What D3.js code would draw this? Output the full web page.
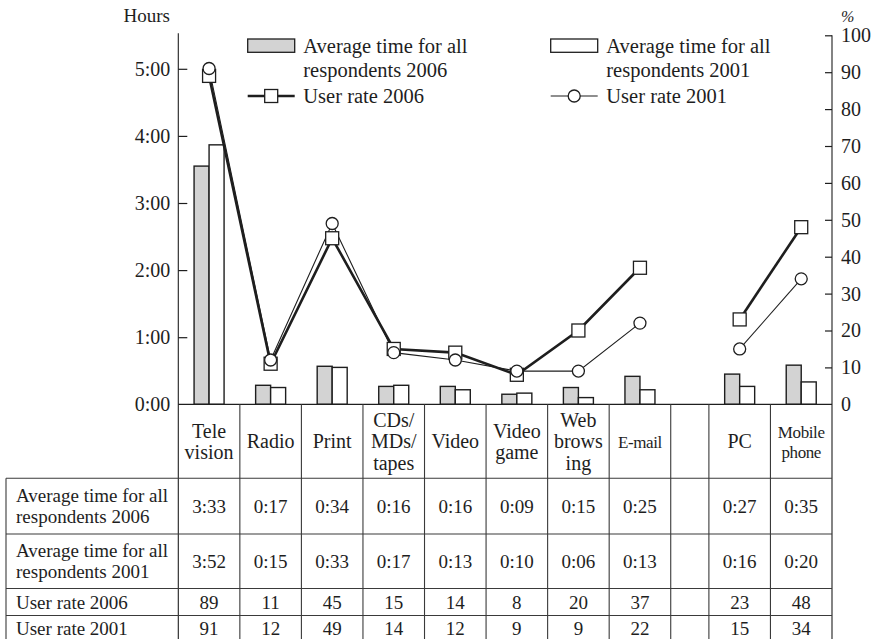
<!DOCTYPE html>
<html>
<head>
<meta charset="utf-8">
<script src="https://cdn.jsdelivr.net/npm/d3@7"></script>
<style>
  html, body { margin: 0; padding: 0; background: #fff; }
</style>
</head>
<body>
<svg id="chart" width="877" height="639"></svg>
<script>
// ---- data -------------------------------------------------------------
const categories = [
  ["Tele", "vision"], ["Radio"], ["Print"], ["CDs/", "MDs/", "tapes"], ["Video"],
  ["Video", "game"], ["Web", "brows", "ing"], ["E-mail"], ["PC"], ["Mobile", "phone"]
];
// average daily time, minutes
const time2006 = [213, 17, 34, 16, 16, 9, 15, 25, 27, 35];
const time2001 = [232, 15, 33, 17, 13, 10, 6, 13, 16, 20];
// user rate, %
const rate2006 = [89, 11, 45, 15, 14, 8, 20, 37, 23, 48];
const rate2001 = [91, 12, 49, 14, 12, 9, 9, 22, 15, 34];
// line groups: media items, then devices
const lineGroups = [[0, 1, 2, 3, 4, 5, 6, 7], [8, 9]];
const hourTicks = [0, 60, 120, 180, 240, 300];
const rateTicks = [0, 10, 20, 30, 40, 50, 60, 70, 80, 90, 100];
const rowLabels = [
  ["Average time for all", "respondents 2006"],
  ["Average time for all", "respondents 2001"],
  ["User rate 2006"],
  ["User rate 2001"]
];

// ---- layout ------------------------------------------------------------
const FONT = "Liberation Serif";
const svg = d3.select("#chart").attr("font-family", FONT);
const ink = "#1e1e1e";
const gridInk = "#3a3a3a";
const L = 178.3, R = 832, base = 404.3, plotTop = 33.3;
const tableLeft = 6;
const rowLines = [478.3, 534, 588.5, 615.5, 642];

const fmtTime = m => Math.floor(m / 60) + ":" + String(m % 60).padStart(2, "0");

// column widths in units: one unit per item, a narrow spacer before PC
const spacerAfter = 7, spacerUnits = 0.62;
const colStart = categories.map((c, i) => i + (i > spacerAfter ? spacerUnits : 0));
const totalUnits = categories.length + spacerUnits;
const xu = d3.scaleLinear().domain([0, totalUnits]).range([L, R]);
const cx = i => xu(colStart[i] + 0.5);
const sub = d3.scaleBand().domain(["2006", "2001"]).range([-15, 15]);

const yTime = d3.scaleLinear().domain([0, 60]).range([base, base - 67.1]);
const yRate = d3.scaleLinear().domain([0, 100]).range([base, 35.3]);

// ---- axes --------------------------------------------------------------
const leftAxis = d3.axisRight(yTime).tickValues(hourTicks).tickFormat(fmtTime).tickSize(9).tickPadding(0);
const gl = svg.append("g").attr("transform", `translate(${L},0)`).call(leftAxis)
  .attr("font-family", FONT).attr("font-size", 20);
gl.select(".domain").remove();
gl.selectAll(".tick line").attr("stroke", ink).attr("stroke-width", 1.2);
gl.selectAll(".tick text").attr("x", -8).attr("text-anchor", "end").attr("fill", ink);
gl.selectAll(".tick").filter(d => d === 0).select("line").remove();

const rightAxis = d3.axisLeft(yRate).tickValues(rateTicks).tickSize(7);
const gr = svg.append("g").attr("transform", `translate(${R},0)`).call(rightAxis)
  .attr("font-family", FONT).attr("font-size", 20);
gr.select(".domain").remove();
gr.selectAll(".tick line").attr("stroke", ink).attr("stroke-width", 1.2);
gr.selectAll(".tick text").attr("x", 9).attr("text-anchor", "start").attr("fill", ink);
gr.selectAll(".tick").filter(d => d === 0).select("line").remove();

svg.append("text").attr("x", 170).attr("y", 22).attr("text-anchor", "end")
  .attr("font-size", 19).attr("fill", ink).text("Hours");
svg.append("text").attr("x", 841).attr("y", 22).attr("text-anchor", "start")
  .attr("font-size", 16).attr("font-style", "italic").attr("fill", ink).text("%");

// ---- bars --------------------------------------------------------------
const bars = svg.append("g");
categories.forEach((c, i) => {
  [["2006", time2006[i], "#d3d3d3"], ["2001", time2001[i], "#ffffff"]].forEach(([k, v, fill]) => {
    bars.append("rect")
      .attr("x", cx(i) + sub(k)).attr("width", sub.bandwidth())
      .attr("y", yTime(v)).attr("height", base - yTime(v))
      .attr("fill", fill).attr("stroke", ink).attr("stroke-width", 1.4);
  });
});

// ---- frame and table ---------------------------------------------------
const tbl = svg.append("g").attr("stroke", gridInk).attr("stroke-width", 1.1);
tbl.append("line").attr("x1", L).attr("x2", L).attr("y1", plotTop).attr("y2", rowLines[4]).attr("stroke", ink);
tbl.append("line").attr("x1", R).attr("x2", R).attr("y1", yRate(100)).attr("y2", rowLines[4]).attr("stroke", ink);
tbl.append("line").attr("x1", L).attr("x2", R).attr("y1", base).attr("y2", base).attr("stroke", ink).attr("stroke-width", 1.3);
// column edges
const edges = categories.map((c, i) => xu(colStart[i]));
edges.push(xu(colStart[spacerAfter] + 1));
edges.slice(1).forEach(x => {
  tbl.append("line").attr("x1", x).attr("x2", x).attr("y1", base).attr("y2", rowLines[4]);
});
tbl.append("line").attr("x1", tableLeft).attr("x2", tableLeft).attr("y1", rowLines[0]).attr("y2", rowLines[4]);
rowLines.forEach(y => {
  tbl.append("line").attr("x1", tableLeft).attr("x2", R).attr("y1", y).attr("y2", y);
});

// header labels
const narrow = new Set(["E-mail", "Mobile"]);
const head = svg.append("g").attr("fill", ink).attr("text-anchor", "middle");
categories.forEach((parts, i) => {
  const small = narrow.has(parts[0]);
  const lh = small ? 20 : 21.5;
  const mid = (base + rowLines[0]) / 2;
  const t = head.append("text").attr("font-size", small ? 17 : 20)
    .attr("letter-spacing", small ? -0.4 : 0);
  parts.forEach((s, j) => {
    t.append("tspan").attr("x", cx(i))
      .attr("y", mid + (j - (parts.length - 1) / 2) * lh + 7)
      .text(s);
  });
});

// row labels
const rowsG = svg.append("g").attr("fill", ink).attr("font-size", 19);
rowLabels.forEach((parts, r) => {
  const mid = (rowLines[r] + rowLines[r + 1]) / 2;
  const t = rowsG.append("text");
  parts.forEach((s, j) => {
    t.append("tspan").attr("x", 16)
      .attr("y", mid + (j - (parts.length - 1) / 2) * 21 + 6.5)
      .text(s);
  });
});

// cell values
const rowsData = [time2006.map(fmtTime), time2001.map(fmtTime), rate2006.map(String), rate2001.map(String)];
const cells = svg.append("g").attr("fill", ink).attr("font-size", 19).attr("text-anchor", "middle");
rowsData.forEach((vals, r) => {
  const mid = (rowLines[r] + rowLines[r + 1]) / 2;
  vals.forEach((v, i) => {
    cells.append("text").attr("x", cx(i)).attr("y", mid + 6.5).text(v);
  });
});

// ---- user-rate lines ---------------------------------------------------
const rateLine = d3.line().x(i => cx(i));
const paths = svg.append("g").attr("fill", "none").attr("stroke", ink);
lineGroups.forEach(g => {
  paths.append("path").attr("d", rateLine.y(i => yRate(rate2001[i]))(g)).attr("stroke-width", 1.1);
  paths.append("path").attr("d", rateLine.y(i => yRate(rate2006[i]))(g)).attr("stroke-width", 2.6);
});

const marks = svg.append("g").attr("fill", "#fff").attr("stroke", ink).attr("stroke-width", 1.3);
categories.forEach((c, i) => {
  marks.append("rect").attr("x", cx(i) - 6.5).attr("y", yRate(rate2006[i]) - 6.5)
    .attr("width", 13).attr("height", 13);
});
categories.forEach((c, i) => {
  marks.append("circle").attr("cx", cx(i)).attr("cy", yRate(rate2001[i])).attr("r", 6);
});

// ---- legend ------------------------------------------------------------
const leg = svg.append("g").attr("fill", ink).attr("font-size", 20.5);
const legendItems = [
  { x: 247.7, kind: "bar", fill: "#d3d3d3", text: ["Average time for all", "respondents 2006"], row: 0 },
  { x: 550.7, kind: "bar", fill: "#ffffff", text: ["Average time for all", "respondents 2001"], row: 0 },
  { x: 247.7, kind: "square", text: ["User rate 2006"], row: 2 },
  { x: 550.7, kind: "circle", text: ["User rate 2001"], row: 2 }
];
const legRowY = [45.6, 70, 96];
legendItems.forEach(it => {
  const cy = legRowY[it.row];
  if (it.kind === "bar") {
    leg.append("rect").attr("x", it.x).attr("y", cy - 6.6).attr("width", 47).attr("height", 13.3)
      .attr("fill", it.fill).attr("stroke", ink).attr("stroke-width", 1.3);
  } else {
    leg.append("line").attr("x1", it.x).attr("x2", it.x + 47).attr("y1", cy).attr("y2", cy)
      .attr("stroke", ink).attr("stroke-width", it.kind === "square" ? 2.6 : 1.1);
    if (it.kind === "square") {
      leg.append("rect").attr("x", it.x + 23.5 - 6.5).attr("y", cy - 6.5).attr("width", 13).attr("height", 13)
        .attr("fill", "#fff").attr("stroke", ink).attr("stroke-width", 1.3);
    } else {
      leg.append("circle").attr("cx", it.x + 23.5).attr("cy", cy).attr("r", 6)
        .attr("fill", "#fff").attr("stroke", ink).attr("stroke-width", 1.3);
    }
  }
  it.text.forEach((s, j) => {
    leg.append("text").attr("x", it.x + 55.6).attr("y", legRowY[it.row + j] + 7).text(s);
  });
});
</script>
</body>
</html>
